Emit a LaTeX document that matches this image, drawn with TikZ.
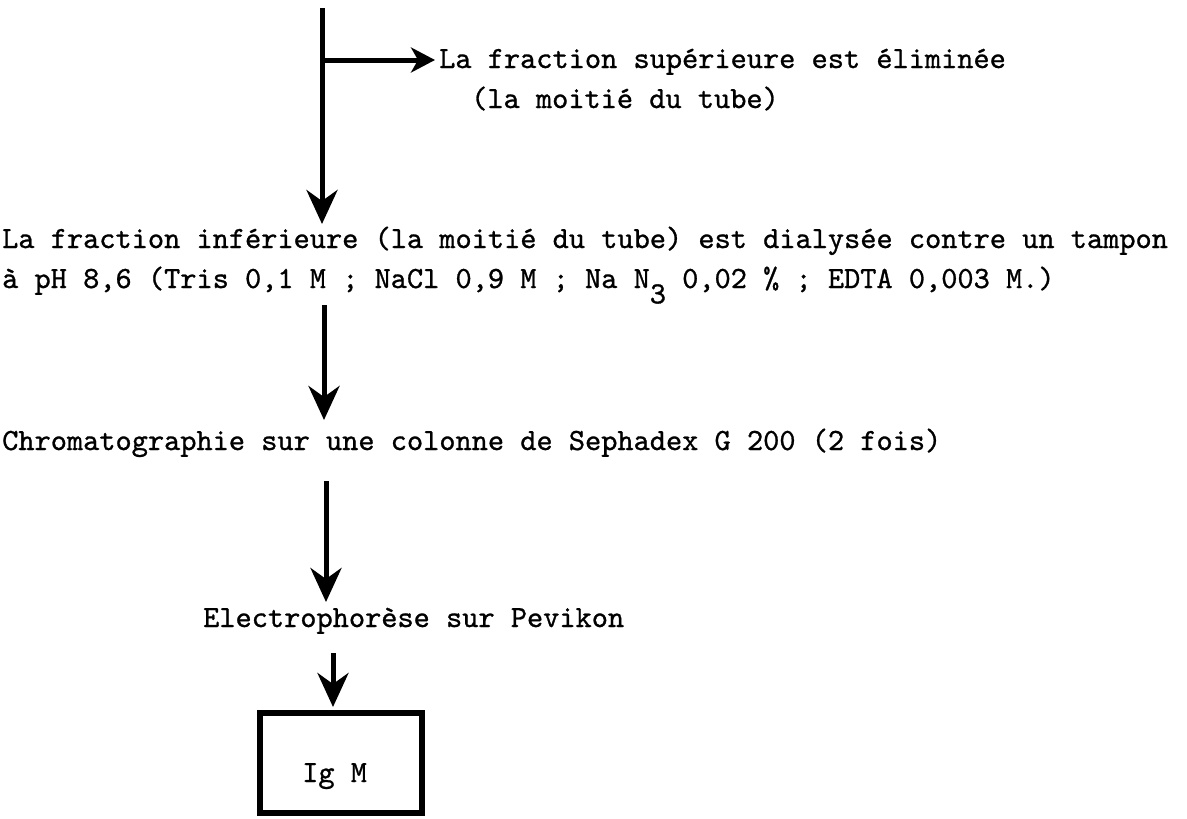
\documentclass[tikz,border=0pt]{standalone}
\usepackage{fontspec}
\newfontfamily\twfont{lmmono10-regular.otf}[FakeBold=0.9]
\usetikzlibrary{arrows.meta}
\begin{document}
\begin{tikzpicture}[x=1pt,y=-1pt,
  txt/.style={anchor=base west,inner sep=0pt,font=\fontsize{30.84}{36}\selectfont\twfont},
  arr/.style={line width=5pt,-{Stealth[length=34pt,width=31pt,inset=11pt]}},
  arrh/.style={line width=5pt,-{Stealth[length=24pt,width=25pt,inset=7pt]}},
  resbox/.style={draw,line width=6pt,minimum width=162pt,minimum height=100pt,inner sep=0pt},
]
\useasboundingbox (0,0) rectangle (1187,819);
% texts
\node[txt] (sup)  at (439,68)  {La fraction supérieure est éliminée};
\node[txt] (moit) at (471,108) {(la moitié du tube)};
\node[txt] (inf1) at (2,248) {La fraction inférieure (la moitié du tube) est dialysée contre un tampon};
\node[txt] (inf2) at (2,288) {à pH 8,6 (Tris 0,1 M ; NaCl 0,9 M ; Na N\raisebox{-0.5em}{3} 0,02 \% ; EDTA 0,003 M.)};
\node[txt] (chro) at (2,450) {Chromatographie sur une colonne de Sephadex G 200 (2 fois)};
\node[txt] (elec) at (203,627) {Electrophorèse sur Pevikon};
\node[resbox] (box) at (341,763) {};
\node[txt] (igm) at (302,782) {Ig M};
% arrow end points
\coordinate (a1s) at (322,8);
\coordinate (a1e) at (322,224);
\coordinate (b0)  at (322,60);
\coordinate (a2s) at (324,305);
\coordinate (a2e) at (324,420);
\coordinate (a3s) at (326,481);
\coordinate (a3e) at (326,602);
\coordinate (a4s) at (333,653);
\coordinate (a4e) at (333,707);
% connectors
\draw[arr] (a1s) -- (a1e);
\draw[arrh,shorten >=4pt] (b0) -- (b0 -| sup.west);
\draw[arr] (a2s) -- (a2e);
\draw[arr] (a3s) -- (a3e);
\draw[arr] (a4s) -- (a4e);
\end{tikzpicture}
\end{document}
